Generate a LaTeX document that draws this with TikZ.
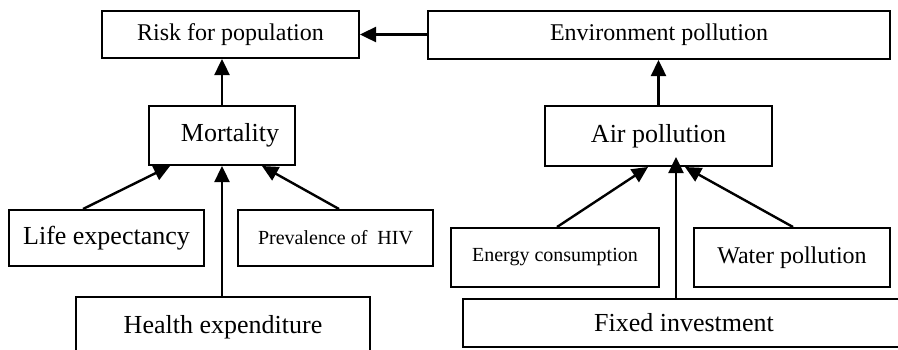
\documentclass[tikz,border=0pt]{standalone}
\usepackage{fontspec}
\setmainfont{Liberation Serif}
\usetikzlibrary{arrows.meta,calc}
\tikzset{
  factor/.style={draw, line width=1pt, inner sep=0pt},
  arr/.style={line width=1.2pt, -{Triangle[length=8pt,width=7.5pt]}},
  big/.style={font=\fontsize{13}{15}\selectfont},
  mid/.style={font=\fontsize{12}{14}\selectfont},
  tiny/.style={font=\fontsize{10}{12}\selectfont}
}
\begin{document}
\begin{tikzpicture}[x=.5pt, y=-.5pt]
  \useasboundingbox (0,0) rectangle (898,349);
  \clip (0,0) rectangle (898,349);
    %%top row
    \node[factor, mid, minimum width=128.5pt, minimum height=23.5pt] (risk) at (230.5, 34.5) {Risk for population};
    \node[factor, mid, minimum width=231pt, minimum height=24pt] (env) at (659, 35) {Environment pollution};
    %%middle row
    \node[factor, big, minimum width=73pt, minimum height=29.5pt] (mort) at (222, 135.5) {\hspace*{8pt}Mortality};
    \node[factor, big, minimum width=113.5pt, minimum height=30pt] (air) at (658.5, 136) {Air pollution};
    %%causes
    \node[factor, big, minimum width=97.5pt, minimum height=28pt] (life) at (106.5, 238) {Life expectancy};
    \node[factor, tiny, minimum width=97.5pt, minimum height=28pt] (hiv) at (335.5, 238) {Prevalence of~ HIV};
    \node[factor, tiny, minimum width=104pt, minimum height=29.5pt] (energy) at (555, 257.5) {Energy consumption};
    \node[factor, mid, minimum width=98pt, minimum height=29.5pt] (water) at (792, 257.5) {Water pollution};
    %%bottom row
    \node[factor, big, minimum width=147pt, minimum height=30pt] (health) at (223, 327) {Health expenditure};
    \node[factor, big, minimum width=221pt, minimum height=24pt] (fixed) at (684, 323) {Fixed investment};

    %%links
    \draw[arr] (mort.north) -- (mort.north |- risk.south);
    \draw[arr] (env.west |- risk.east) -- (risk.east);
    \draw[arr] (air.north) -- (air.north |- env.south);
      \draw[arr] ($(life.north)+(-23.5,0)$) -- ($(mort.south)+(-52,0)$);
      \draw[arr] ($(hiv.north)+(3.5,0)$) -- ($(mort.south)+(40,0)$);
      \draw[arr] (health.north -| mort.south) -- (mort.south);
      \draw[arr] ($(energy.north)+(2,0)$) -- ($(air.south)+(-10.5,0)$);
      \draw[arr] ($(water.north)+(1,0)$) -- ($(air.south)+(26.5,0)$);
    \coordinate (tip) at ($(air.south)+(17.5,-10)$);
      \draw[arr] (fixed.north -| tip) -- (tip);
\end{tikzpicture}
\end{document}
